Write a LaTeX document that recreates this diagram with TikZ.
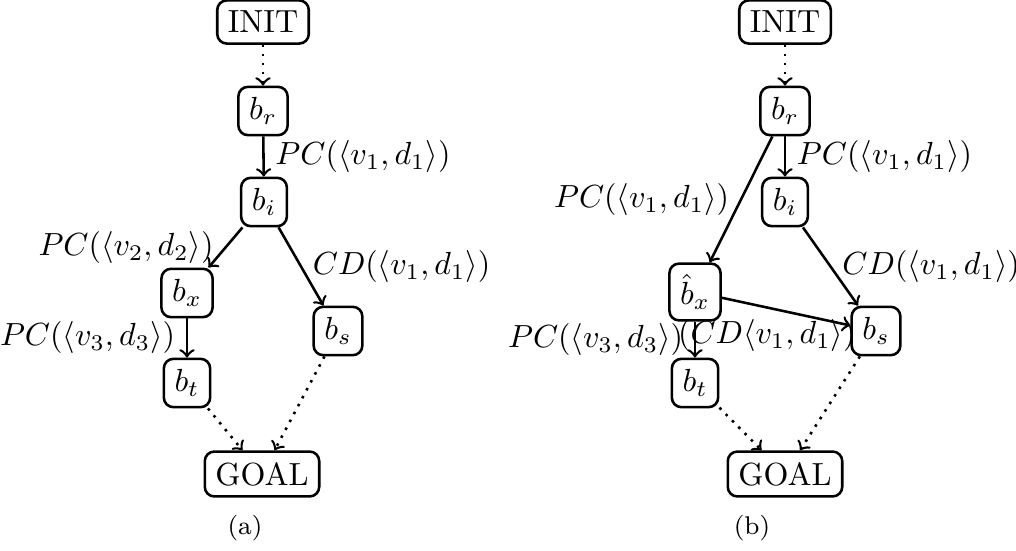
\documentclass[tikz,border=0pt]{standalone}
\tikzset{
  state/.style={draw, rounded corners=3pt, thick, inner sep=3.33pt},
  trans/.style={->, thick},
  free/.style={->, thick, dotted},
  subcap/.style={font=\footnotesize},
}
\begin{document}
\begin{tikzpicture}[x=0.3125pt,y=-0.3125pt]
\useasboundingbox (0,0) rectangle (1016,551);
% (a)
\node[state] (aI) at (263,22) {INIT};
\node[state] (aR) at (263,111) {$b_r$};
\node[state] (aB) at (264,202) {$b_i$};
\node[state] (aX) at (187,293) {$b_x$};
\node[state] (aS) at (338,331) {$b_s$};
\node[state] (aT) at (187,383) {$b_t$};
\node[state] (aG) at (262,474) {GOAL};
\node[subcap] (aC) at (245,528) {(a)};
\draw[free] (aI) -- (aR);
\draw[trans] (aR) -- node[right] {$PC(\langle v_1,d_1\rangle)$} (aB);
\draw[trans] (aB) -- node[left] {$PC(\langle v_2,d_2\rangle)$} (aX);
\draw[trans] (aB) -- node[right] {$CD(\langle v_1,d_1\rangle)$} (aS);
\draw[trans] (aX) -- node[left] {$PC(\langle v_3,d_3\rangle)$} (aT);
\draw[free] (aT) -- (aG);
\draw[free] (aS) -- (aG);
% (b)
\node[state] (bI) at (785,22) {INIT};
\node[state] (bR) at (785,111) {$b_r$};
\node[state] (bB) at (785,202) {$b_i$};
\node[state] (bX) at (695,292) {$\hat{b}_x$};
\node[state] (bS) at (876,331) {$b_s$};
\node[state] (bT) at (695,383) {$b_t$};
\node[state] (bG) at (785,474) {GOAL};
\node[subcap] (bC) at (752,528) {(b)};
\draw[free] (bI) -- (bR);
\draw[trans] (bR) -- node[right] {$PC(\langle v_1,d_1\rangle)$} (bB);
\draw[trans] (bR) -- node[left] {$PC(\langle v_1,d_1\rangle)$} (bX);
\draw[trans] (bB) -- node[right] {$CD(\langle v_1,d_1\rangle)$} (bS);
\draw[trans] (bX) -- node[left] {$PC(\langle v_3,d_3\rangle)$} (bT);
\draw[trans] (bX) -- node[pos=0.35, below] {$(CD\langle v_1,d_1\rangle)$} (bS);
\draw[free] (bT) -- (bG);
\draw[free] (bS) -- (bG);
\end{tikzpicture}
\end{document}
